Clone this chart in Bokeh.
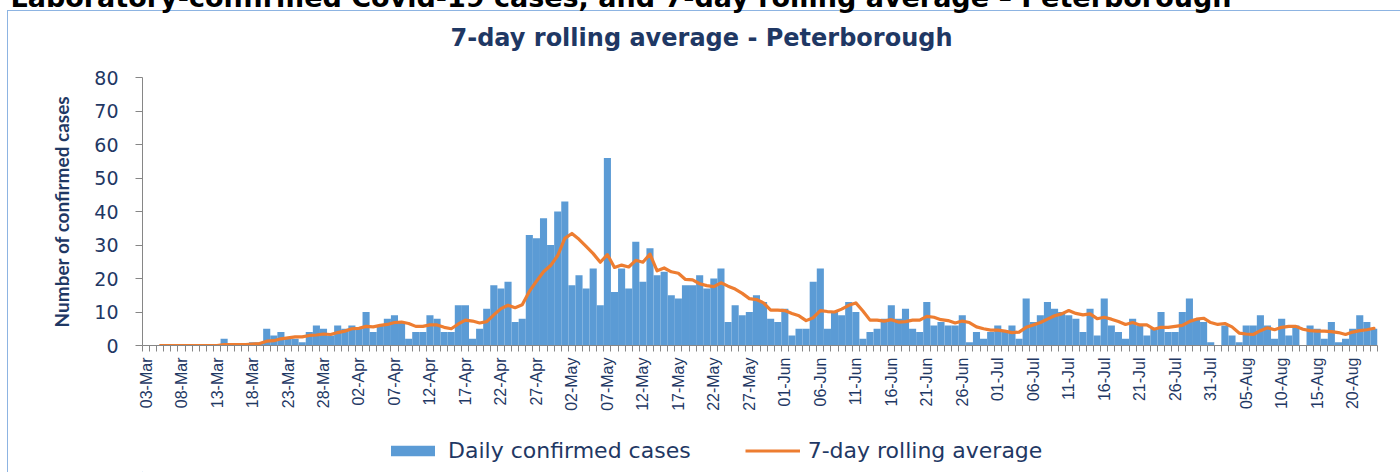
import math
from bokeh.plotting import figure
from bokeh.layouts import column
from bokeh.models import (ColumnDataSource, FixedTicker, Legend, LegendItem, Range1d, Title)
from bokeh.embed import file_html
from bokeh.resources import INLINE

# ---------------- data ----------------
# one category per day, starting 03-Mar (index 0) to 23-Aug (index 173)
day_index = list(range(174))

daily_cases = [
    0, 0, 0, 0, 0, 0, 0, 0, 0, 0,
    0, 2, 0, 0, 0, 1, 1, 5, 3, 4,
    2, 2, 1, 4, 6, 5, 3, 6, 5, 6,
    5, 10, 4, 6, 8, 9, 7, 2, 4, 4,
    9, 8, 4, 4, 12, 12, 2, 5, 11, 18,
    17, 19, 7, 8, 33, 32, 38, 30, 40, 43,
    18, 21, 17, 23, 12, 56, 16, 23, 17, 31,
    19, 29, 21, 22, 15, 14, 18, 18, 21, 17,
    20, 23, 7, 12, 9, 10, 15, 13, 8, 7,
    11, 3, 5, 5, 19, 23, 5, 10, 9, 13,
    10, 2, 4, 5, 8, 12, 8, 11, 5, 4,
    13, 6, 7, 6, 6, 9, 1, 4, 2, 4,
    6, 4, 6, 2, 14, 7, 9, 13, 11, 10,
    9, 8, 4, 11, 3, 14, 6, 4, 2, 8,
    6, 3, 5, 10, 4, 4, 10, 14, 8, 7,
    1, 0, 6, 3, 1, 6, 6, 9, 6, 2,
    8, 3, 6, 0, 6, 5, 2, 7, 1, 2,
    5, 9, 7, 5,
]

NaN = float("nan")
rolling_avg = [
    NaN, NaN, 0, 0, 0, 0, 0, 0, 0, 0,
    0, 0.29, 0.29, 0.29, 0.29, 0.43, 0.57, 1.29, 1.43, 2.0,
    2.29, 2.57, 2.57, 3.0, 3.14, 3.43, 3.29, 3.86, 4.29, 5.0,
    5.14, 5.71, 5.57, 6.0, 6.29, 6.86, 7.0, 6.57, 5.71, 5.71,
    6.14, 6.14, 5.43, 5.0, 6.43, 7.57, 7.29, 6.71, 7.14, 9.14,
    11.0, 12.0, 11.29, 12.14, 16.14, 19.14, 22.0, 23.86, 26.86, 32.0,
    33.43, 31.71, 29.57, 27.43, 24.86, 27.14, 23.29, 24.0, 23.43, 25.43,
    24.86, 27.29, 22.29, 23.14, 22.0, 21.57, 19.71, 19.57, 18.43, 17.86,
    17.57, 18.71, 17.71, 16.86, 15.57, 14.0, 13.71, 12.71, 10.57, 10.57,
    10.43, 9.57, 8.86, 7.43, 8.29, 10.43, 10.14, 10.0, 10.86, 12.0,
    12.71, 10.29, 7.57, 7.57, 7.29, 7.71, 7.0, 7.14, 7.57, 7.57,
    8.71, 8.43, 7.71, 7.43, 6.71, 7.29, 6.86, 5.57, 5.0, 4.57,
    4.57, 4.29, 3.86, 4.0, 5.43, 6.14, 6.86, 7.86, 8.86, 9.43,
    10.43, 9.57, 9.14, 9.43, 8.0, 8.43, 7.86, 7.14, 6.29, 6.86,
    6.14, 6.14, 4.86, 5.43, 5.43, 5.71, 6.0, 7.14, 7.86, 8.14,
    6.86, 6.29, 6.57, 5.57, 3.71, 3.43, 3.29, 4.43, 5.29, 4.71,
    5.43, 5.71, 5.71, 4.86, 4.43, 4.29, 4.29, 4.14, 3.86, 3.29,
    4.0, 4.43, 4.71, 5.14,
]

tick_positions = list(range(0, 171, 5))
tick_labels = [
    "03-Mar", "08-Mar", "13-Mar", "18-Mar", "23-Mar", "28-Mar",
    "02-Apr", "07-Apr", "12-Apr", "17-Apr", "22-Apr", "27-Apr",
    "02-May", "07-May", "12-May", "17-May", "22-May", "27-May",
    "01-Jun", "06-Jun", "11-Jun", "16-Jun", "21-Jun", "26-Jun",
    "01-Jul", "06-Jul", "11-Jul", "16-Jul", "21-Jul", "26-Jul",
    "31-Jul", "05-Aug", "10-Aug", "15-Aug", "20-Aug",
]
y_ticks = [0, 10, 20, 30, 40, 50, 60, 70, 80]

header_text = "Laboratory-confirmed Covid-19 cases, and 7-day rolling average \u2013 Peterborough"
title_text = "7-day rolling average - Peterborough"
y_label = "Number of confirmed cases"
legend_labels = ["Daily confirmed cases", "7-day rolling average"]

# ---------------- styling ----------------
NAVY = "#1F3864"
BAR = "#5B9BD5"
LINE = "#ED7D31"
AXIS = "#868686"
BOX = "#8DB4E2"
SHIFT = 30          # page content starts 30px above the window (header cut off as in the reference)
MAIN_H = 450        # main chart canvas: page y -30 .. 420
LEG_H = 472 + SHIFT - MAIN_H   # legend strip: page y 420 .. 472
FRAME_LEFT = 142

src = ColumnDataSource(dict(x=day_index, cases=daily_cases, avg=rolling_avg))

p = figure(width=1400, height=MAIN_H, title=None,
           x_range=Range1d(-0.5, 173.5), y_range=Range1d(0, 80),
           output_backend="svg", toolbar_location=None,
           min_border_left=FRAME_LEFT, min_border_right=23,
           min_border_top=77 + SHIFT, min_border_bottom=MAIN_H - SHIFT - 345,
           background_fill_color=None, border_fill_color=None)
p.outline_line_color = None
p.xgrid.visible = False
p.ygrid.visible = False

bars = p.vbar(x="x", top="cases", width=1.0, source=src,
              fill_color=BAR, line_color=None)
line = p.line(x="x", y="avg", source=src, line_color=LINE, line_width=3.2,
              line_join="round", line_cap="round")

# y axis
ya = p.yaxis[0]
ya.ticker = FixedTicker(ticks=y_ticks)
ya.axis_line_color = AXIS
ya.major_tick_line_color = AXIS
ya.major_tick_out = 7
ya.major_tick_in = 0
ya.minor_tick_line_color = None
ya.major_label_standoff = 17
ya.major_label_text_font = "DejaVu Sans"
ya.major_label_text_font_size = "19px"
ya.major_label_text_color = NAVY
ya.axis_label = y_label
ya.axis_label_text_font = "Lato"
ya.axis_label_text_font_style = "bold"
ya.axis_label_text_font_size = "19px"
ya.axis_label_text_color = NAVY
ya.axis_label_standoff = 18

# x axis
xa = p.xaxis[0]
xa.ticker = FixedTicker(ticks=tick_positions,
                        minor_ticks=[i - 0.5 for i in range(len(day_index) + 1)])
xa.major_label_overrides = {pos: lab for pos, lab in zip(tick_positions, tick_labels)}
xa.major_label_orientation = math.pi / 2
xa.axis_line_color = AXIS
xa.major_tick_line_color = None
xa.major_tick_out = 0
xa.major_tick_in = 0
xa.minor_tick_line_color = AXIS
xa.minor_tick_out = 6
xa.minor_tick_in = 0
xa.major_label_standoff = 6
xa.major_label_text_font = "Liberation Sans"
xa.major_label_text_font_size = "16px"
xa.major_label_text_color = NAVY

# above panel, from the frame outwards: spacer, chart title, cut-off report header
p.add_layout(Title(text=" ", text_font_size="1px", standoff=21), "above")
p.add_layout(Title(text=title_text, align="left", offset=308,
                   text_font="DejaVu Sans", text_font_style="bold",
                   text_font_size="24px", text_color=NAVY, standoff=4), "above")
p.add_layout(Title(text=header_text, align="left", offset=-132,
                   text_font="DejaVu Sans", text_font_style="bold",
                   text_font_size="27px", text_color="black", standoff=14), "above")

# legend strip below the chart (its own canvas, so the legend is not clipped);
# the column aligns this strip's frame with the chart's frame (left edge at page x 142)
p2 = figure(width=1400, height=LEG_H, x_range=Range1d(0, 1400), y_range=Range1d(0, LEG_H),
            output_backend="svg", toolbar_location=None, min_border=0,
            x_axis_type=None, y_axis_type=None,
            background_fill_color=None, border_fill_color=None)
p2.outline_line_color = None
p2.grid.visible = False
# legend keys: one point each, placed far outside the visible range
key_bar = p2.vbar(x=[-10000], top=[1], width=1, fill_color=BAR, line_color=None)
key_line = p2.line(x=[-10000, -9999], y=[1, 1], line_color=LINE, line_width=3.2)

legend = Legend(items=[LegendItem(label=legend_labels[0], renderers=[key_bar]),
                       LegendItem(label=legend_labels[1], renderers=[key_line])],
                orientation="horizontal", location=(385 - FRAME_LEFT, LEG_H - 29.5 - 13),
                glyph_width=55, glyph_height=13, label_standoff=8, spacing=54,
                padding=0, margin=0, border_line_color=None,
                background_fill_alpha=0,
                label_text_font="DejaVu Sans", label_text_font_size="22px",
                label_text_color=NAVY)
p2.add_layout(legend)

top_line = 10 + SHIFT
page = column(p, p2, spacing=0, styles={
    "margin-top": f"-{SHIFT}px",
    # thin light-blue chart-box border, drawn behind the transparent canvases
    "background": (f"linear-gradient({BOX},{BOX}) 7px {top_line}px / 1px 2000px no-repeat, "
                   f"linear-gradient({BOX},{BOX}) 7px {top_line}px / 3000px 1px no-repeat"),
})

open("out.html", "w").write(file_html(page, INLINE))
